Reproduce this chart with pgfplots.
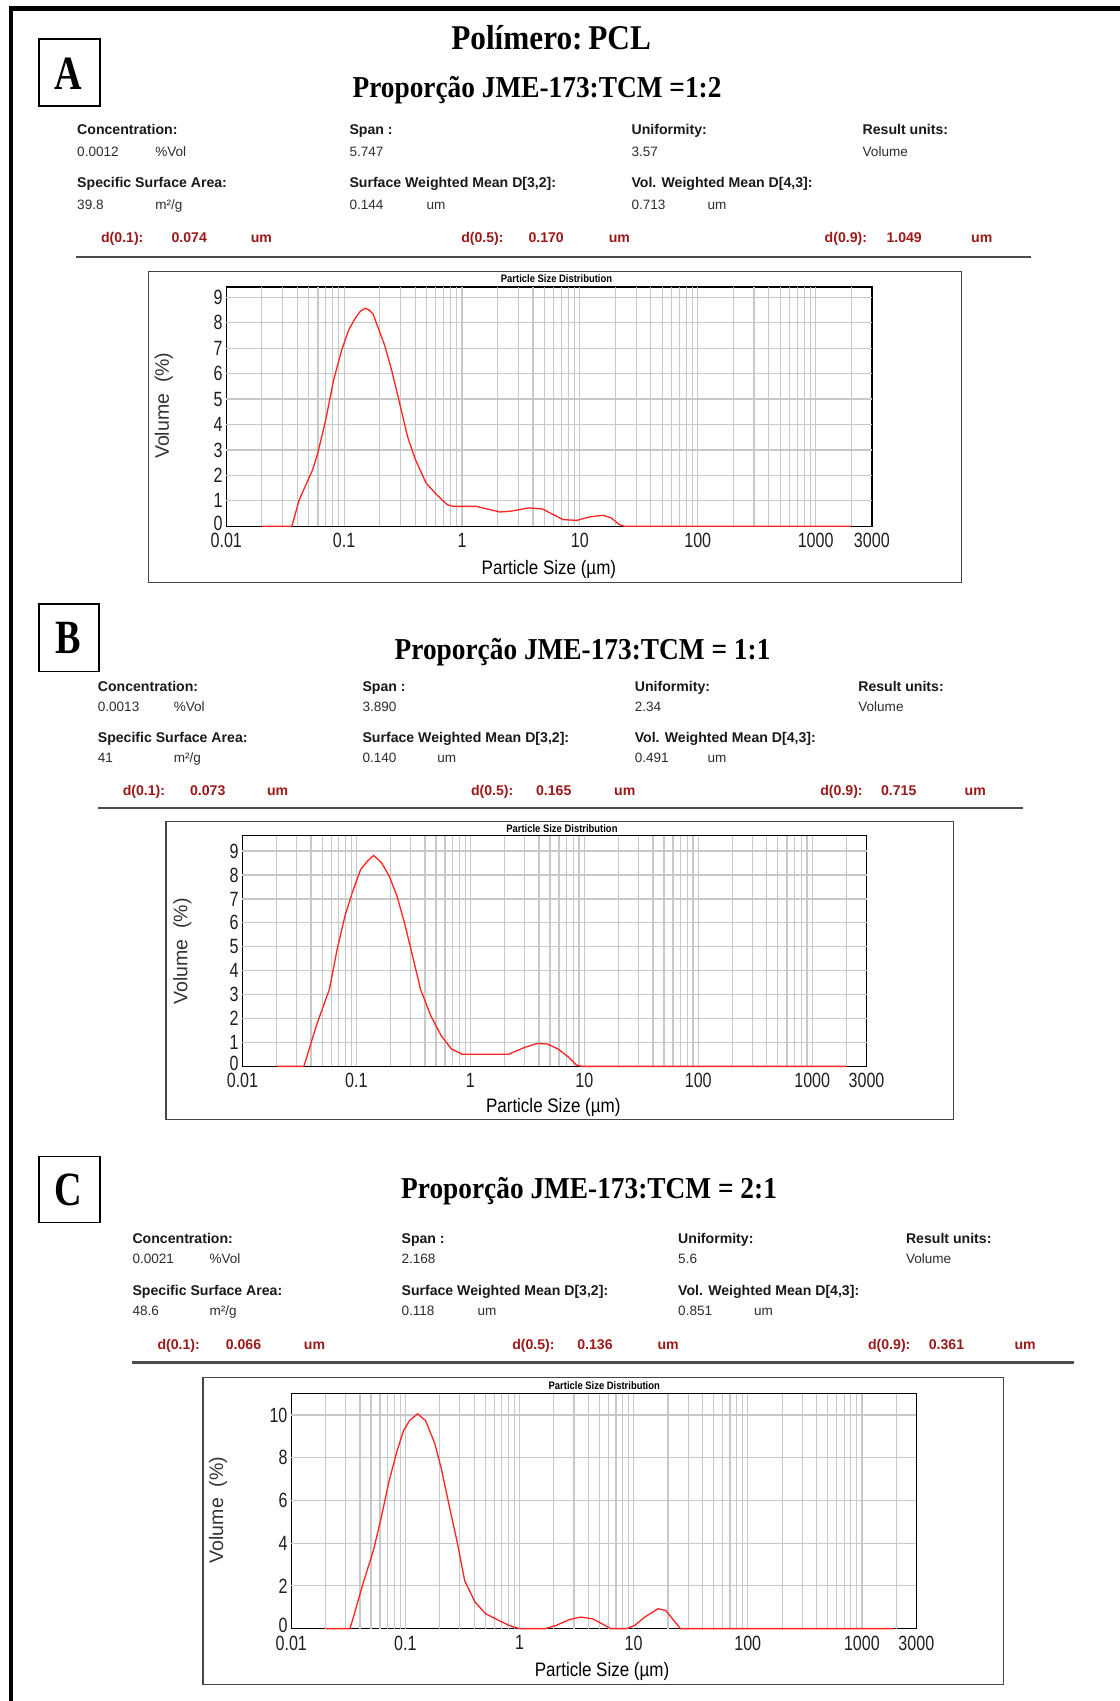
\documentclass[border=0pt]{standalone}
\usepackage{pgfplots}
\pgfplotsset{compat=1.18}
\usepackage{fontspec}
\setmainfont{Liberation Sans}
\newfontfamily\sansT[FakeStretch=0.78]{Liberation Sans}
\newfontfamily\sansX[FakeStretch=0.87]{Liberation Sans}
\newfontfamily\serifB[FakeStretch=0.9]{Liberation Serif}
\newfontfamily\serifL[FakeStretch=0.8]{Liberation Serif}
\definecolor{redtxt}{RGB}{155,25,25}
\definecolor{gridc}{RGB}{200,200,200}
\definecolor{curvec}{RGB}{255,35,35}
\definecolor{valc}{RGB}{45,45,45}
\definecolor{labc}{RGB}{25,25,25}
\definecolor{boxc}{RGB}{70,70,70}

\newcommand\tx[3]{\node[anchor=base west,inner sep=0pt] at ({#1pt},{1568pt-#2pt}) {#3};}
\newcommand\cx[3]{\node[anchor=center,inner sep=0pt] at ({#1pt},{1568pt-#2pt}) {#3};}
\newcommand\lab{\bfseries\fontsize{13}{13}\selectfont\color{labc}}
\newcommand\val{\fontsize{12.5}{12.5}\selectfont\color{valc}}
\newcommand\rdt{\bfseries\fontsize{13}{13}\selectfont\color{redtxt}}
\newcommand\ttl{\serifB\bfseries\fontsize{28}{28}\selectfont}

\pgfplotsset{every axis/.append style={
  scale only axis, anchor=south west,
  xmin=0.01, xmax=3000, ymin=0,
  xtick={0.1,1,10,100,1000},
  xticklabels={0.1,1,10,100,1000},
  extra x ticks={0.01,3000}, extra x tick labels={0.01,3000},
  extra x tick style={grid=none, major tick length=0pt},
  extra y ticks={0}, extra y tick labels={0},
  extra y tick style={grid=none, major tick length=0pt, yticklabel style={yshift=3pt}},
  minor xtick={0.02,0.03,0.04,0.05,0.06,0.07,0.08,0.09,0.2,0.3,0.4,0.5,0.6,0.7,0.8,0.9,2,3,4,5,6,7,8,9,20,30,40,50,60,70,80,90,200,300,400,500,600,700,800,900,2000},
  xmajorgrids, xminorgrids, ymajorgrids,
  major grid style={gridc, line width=1.1pt},
  minor grid style={gridc, line width=1.1pt},
  major tick length=0pt, minor tick length=0pt,
  axis line style={draw=none},
  axis background/.style={draw=black, line width=1.3pt},
  tick label style={font=\sansT\fontsize{19}{19}\selectfont, text=black!88},
  xticklabel style={yshift=-3pt},
  clip=false,
}}

\begin{document}
\begin{tikzpicture}
\path[use as bounding box, fill=white] (0pt,0pt) rectangle (1032pt,1568pt);
% outer frame
\draw[line width=4pt, black] (1034pt,1560pt) -- (10pt,1560pt) -- (10pt,-2pt);

% ================= Panel A =================
\draw[line width=1.6pt] (36pt,{1568pt-36pt}) rectangle (92pt,{1568pt-98pt});
\cx{63}{68}{\serifL\bfseries\fontsize{44}{44}\selectfont A}
\cx{508}{35}{\serifB\bfseries\fontsize{32}{32}\selectfont Polímero:\,PCL}
\cx{495}{83}{\ttl Proporção JME-173:TCM =1:2}
\tx{71}{124}{\lab Concentration:}
\tx{71}{144}{\val 0.0012}
\tx{143}{144}{\val \%Vol}
\tx{322}{124}{\lab Span :}
\tx{322}{144}{\val 5.747}
\tx{582}{124}{\lab Uniformity:}
\tx{582}{144}{\val 3.57}
\tx{795}{124}{\lab Result units:}
\tx{795}{144}{\val Volume}
\tx{71}{173}{\lab Specific Surface Area:}
\tx{71}{193}{\val 39.8}
\tx{143}{193}{\val m²/g}
\tx{322}{173}{\lab Surface Weighted Mean D[3,2]:}
\tx{322}{193}{\val 0.144}
\tx{393}{193}{\val um}
\tx{582}{173}{\lab Vol. Weighted Mean D[4,3]:}
\tx{582}{193}{\val 0.713}
\tx{652}{193}{\val um}
\tx{93}{224}{\rdt d(0.1):}
\tx{158}{224}{\rdt 0.074}
\tx{231}{224}{\rdt um}
\tx{425}{224}{\rdt d(0.5):}
\tx{487}{224}{\rdt 0.170}
\tx{561}{224}{\rdt um}
\tx{760}{224}{\rdt d(0.9):}
\tx{817}{224}{\rdt 1.049}
\tx{895}{224}{\rdt um}
\draw[line width=2.2pt, black!70] (70pt,{1568pt-237pt}) -- (950pt,{1568pt-237pt});
\draw[line width=1.2pt, boxc] (137pt,{1568pt-250pt}) rectangle (886pt,{1568pt-537pt});
\cx{513}{257}{\sansX\bfseries\fontsize{10}{10}\selectfont Particle Size Distribution}
\cx{506}{525}{\sansX\fontsize{18}{18}\selectfont Particle Size (µm)}
\node[rotate=90, inner sep=0pt] at (151pt,{1568pt-374pt}) {\fontsize{18}{18}\selectfont\color{black!80} Volume\ \ (\%)};
\begin{axis}[xmode=log, at={(208.6pt,1082.9pt)}, width=595.1pt, height=220.4pt,
  ymax=9.4, ytick={1,2,3,4,5,6,7,8,9}, yticklabels={1,2,3,4,5,6,7,8,9}]
\addplot[curvec, line width=1.2pt] table {
x y
0.02 0
0.036 0
0.0416 1.04
0.0538 2.2
0.0597 2.87
0.0697 4.17
0.0813 5.74
0.095 6.9
0.1087 7.69
0.123 8.15
0.137 8.45
0.151 8.57
0.163 8.5
0.176 8.34
0.221 7.1
0.253 6.13
0.296 4.82
0.345 3.52
0.403 2.61
0.495 1.7
0.609 1.24
0.749 0.85
0.83 0.78
1.32 0.78
2.1 0.56
2.58 0.59
3.71 0.72
4.8 0.68
7.2 0.26
9.4 0.23
12.2 0.37
15.7 0.43
18.4 0.33
21.5 0.07
23.8 0
2000 0
};
\end{axis}

% ================= Panel B =================
\draw[line width=1.6pt] (36pt,{1568pt-557pt}) rectangle (91pt,{1568pt-619pt});
\cx{63}{588}{\serifL\bfseries\fontsize{44}{44}\selectfont B}
\cx{537}{601}{\ttl Proporção JME-173:TCM = 1:1}
\tx{90}{637}{\lab Concentration:}
\tx{90}{656}{\val 0.0013}
\tx{160}{656}{\val \%Vol}
\tx{334}{637}{\lab Span :}
\tx{334}{656}{\val 3.890}
\tx{585}{637}{\lab Uniformity:}
\tx{585}{656}{\val 2.34}
\tx{791}{637}{\lab Result units:}
\tx{791}{656}{\val Volume}
\tx{90}{684}{\lab Specific Surface Area:}
\tx{90}{703}{\val 41}
\tx{160}{703}{\val m²/g}
\tx{334}{684}{\lab Surface Weighted Mean D[3,2]:}
\tx{334}{703}{\val 0.140}
\tx{403}{703}{\val um}
\tx{585}{684}{\lab Vol. Weighted Mean D[4,3]:}
\tx{585}{703}{\val 0.491}
\tx{652}{703}{\val um}
\tx{113}{733}{\rdt d(0.1):}
\tx{175}{733}{\rdt 0.073}
\tx{246}{733}{\rdt um}
\tx{434}{733}{\rdt d(0.5):}
\tx{494}{733}{\rdt 0.165}
\tx{566}{733}{\rdt um}
\tx{756}{733}{\rdt d(0.9):}
\tx{812}{733}{\rdt 0.715}
\tx{889}{733}{\rdt um}
\draw[line width=2.2pt, black!70] (90pt,{1568pt-745pt}) -- (943pt,{1568pt-745pt});
\draw[line width=1.2pt, boxc] (153pt,{1568pt-757pt}) rectangle (879pt,{1568pt-1032pt});
\cx{518}{764}{\sansX\bfseries\fontsize{10}{10}\selectfont Particle Size Distribution}
\cx{510}{1021}{\sansX\fontsize{18}{18}\selectfont Particle Size (µm)}
\node[rotate=90, inner sep=0pt] at (168pt,{1568pt-877pt}) {\fontsize{18}{18}\selectfont\color{black!80} Volume\ \ (\%)};
\begin{axis}[xmode=log, at={(223.5pt,585pt)}, width=575.3pt, height=212.8pt,
  ymax=9.65, ytick={1,2,3,4,5,6,7,8,9}, yticklabels={1,2,3,4,5,6,7,8,9}]
\addplot[curvec, line width=1.2pt] table {
x y
0.02 0
0.0346 0
0.0445 1.7
0.058 3.23
0.0678 4.9
0.0794 6.29
0.093 7.33
0.109 8.23
0.125 8.58
0.1416 8.82
0.166 8.51
0.194 7.96
0.227 7.12
0.266 5.94
0.311 4.62
0.365 3.23
0.45 2.11
0.555 1.28
0.685 0.72
0.845 0.51
2.18 0.51
2.99 0.79
3.88 0.96
4.79 0.93
5.91 0.72
7.3 0.38
8.5 0.06
9.5 0
2000 0
};
\end{axis}

% ================= Panel C =================
\draw[line width=1.6pt] (36pt,{1568pt-1066pt}) rectangle (92pt,{1568pt-1127pt});
\cx{63}{1097}{\serifL\bfseries\fontsize{44}{44}\selectfont C}
\cx{543}{1098}{\ttl Proporção JME-173:TCM = 2:1}
\tx{122}{1146}{\lab Concentration:}
\tx{122}{1165}{\val 0.0021}
\tx{193}{1165}{\val \%Vol}
\tx{370}{1146}{\lab Span :}
\tx{370}{1165}{\val 2.168}
\tx{625}{1146}{\lab Uniformity:}
\tx{625}{1165}{\val 5.6}
\tx{835}{1146}{\lab Result units:}
\tx{835}{1165}{\val Volume}
\tx{122}{1194}{\lab Specific Surface Area:}
\tx{122}{1213}{\val 48.6}
\tx{193}{1213}{\val m²/g}
\tx{370}{1194}{\lab Surface Weighted Mean D[3,2]:}
\tx{370}{1213}{\val 0.118}
\tx{440}{1213}{\val um}
\tx{625}{1194}{\lab Vol. Weighted Mean D[4,3]:}
\tx{625}{1213}{\val 0.851}
\tx{695}{1213}{\val um}
\tx{145}{1244}{\rdt d(0.1):}
\tx{208}{1244}{\rdt 0.066}
\tx{280}{1244}{\rdt um}
\tx{472}{1244}{\rdt d(0.5):}
\tx{532}{1244}{\rdt 0.136}
\tx{606}{1244}{\rdt um}
\tx{800}{1244}{\rdt d(0.9):}
\tx{856}{1244}{\rdt 0.361}
\tx{935}{1244}{\rdt um}
\draw[line width=2.2pt, black!70] (122pt,{1568pt-1256pt}) -- (990pt,{1568pt-1256pt});
\draw[line width=1.2pt, boxc] (187pt,{1568pt-1270pt}) rectangle (925pt,{1568pt-1553pt});
\cx{557}{1277}{\sansX\bfseries\fontsize{10}{10}\selectfont Particle Size Distribution}
\cx{555}{1541}{\sansX\fontsize{18}{18}\selectfont Particle Size (µm)}
\node[rotate=90, inner sep=0pt] at (201pt,{1568pt-1392pt}) {\fontsize{18}{18}\selectfont\color{black!80} Volume\ \ (\%)};
\begin{axis}[xmode=log, at={(268.5pt,66.7pt)}, width=576.2pt, height=216.7pt,
  ymax=11, ytick={2,4,6,8,10}, yticklabels={2,4,6,8,10}]
\addplot[curvec, line width=1.2pt] table {
x y
0.02 0
0.0326 0
0.0344 0.39
0.0424 2.09
0.0523 3.63
0.0613 5.18
0.0718 6.88
0.084 8.27
0.0963 9.27
0.109 9.74
0.128 10.05
0.15 9.74
0.181 8.66
0.206 7.5
0.241 5.8
0.283 4.1
0.331 2.24
0.408 1.24
0.504 0.7
0.656 0.39
0.81 0.15
1.0 0
1.69 0
2.09 0.15
2.72 0.42
3.43 0.54
4.37 0.46
5.4 0.2
6.3 0
8.67 0
10.2 0.15
12.5 0.54
16.3 0.93
19.1 0.85
22.4 0.39
25.7 0
1900 0
};
\end{axis}
\end{tikzpicture}
\end{document}
